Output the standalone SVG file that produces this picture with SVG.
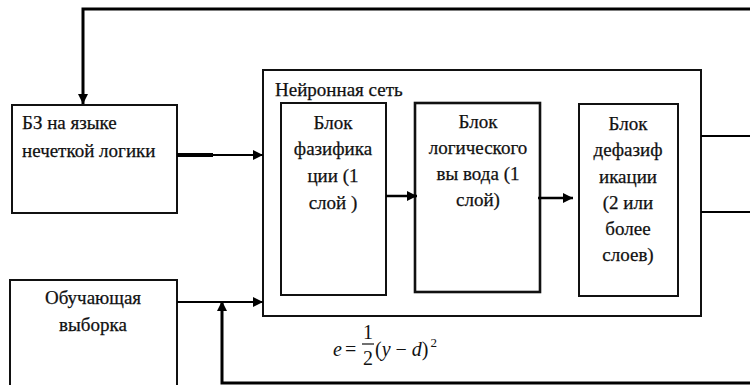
<svg xmlns="http://www.w3.org/2000/svg" width="750" height="385" viewBox="0 0 750 385">
  <defs>
    <marker id="arr" viewBox="0 0 10 10" refX="10" refY="5" markerWidth="11" markerHeight="10" markerUnits="userSpaceOnUse" orient="auto">
      <path d="M0,0 L10,5 L0,10 Z" fill="#000"/>
    </marker>
  </defs>
  <style>
    .box { fill: #fff; stroke: #111; stroke-width: 2; }
    .t { font-family: "Liberation Serif", "Times New Roman", serif; font-size: 19px; fill: #111; stroke: #111; stroke-width: 0.25; }
    .c { text-anchor: middle; }
    .ln { fill: none; stroke: #000; stroke-width: 2; }
    .thick { fill: none; stroke: #000; stroke-width: 3; }
    .math { font-family: "Liberation Serif", "Times New Roman", serif; font-size: 20px; fill: #111; }
  </style>
  <rect width="750" height="385" fill="#fff"/>

  <g id="nn">
    <rect class="box" x="263" y="70" width="438" height="246"/>
    <text class="t" x="275" y="96">Нейронная сеть</text>
  </g>

  <g id="bz">
    <rect class="box" x="12" y="105" width="165" height="108"/>
    <text class="t" x="22" y="129">БЗ на языке</text>
    <text class="t" x="22" y="157">нечеткой логики</text>
  </g>

  <g id="train">
    <rect class="box" x="10" y="280" width="167" height="110"/>
    <text class="t c" x="93" y="304">Обучающая</text>
    <text class="t c" x="93" y="331">выборка</text>
  </g>

  <g id="fuzz">
    <rect class="box" x="281" y="103" width="105" height="192"/>
    <text class="t c" x="333" y="129">Блок</text>
    <text class="t c" x="333" y="155">фазифика</text>
    <text class="t c" x="333" y="182">ции (1</text>
    <text class="t c" x="333" y="209">слой )</text>
  </g>

  <g id="infer">
    <rect class="box" x="415" y="103" width="125" height="189" style="stroke-width:2.6"/>
    <text class="t c" x="478" y="128">Блок</text>
    <text class="t c" x="478" y="154">логического</text>
    <text class="t c" x="478" y="180">вы вода (1</text>
    <text class="t c" x="478" y="206">слой)</text>
  </g>

  <g id="defuzz">
    <rect class="box" x="579" y="104" width="99" height="192"/>
    <text class="t c" x="628" y="130">Блок</text>
    <text class="t c" x="628" y="156">дефазиф</text>
    <text class="t c" x="628" y="183">икации</text>
    <text class="t c" x="628" y="209">(2 или</text>
    <text class="t c" x="628" y="235">более</text>
    <text class="t c" x="628" y="261">слоев)</text>
  </g>

  <g id="formula">
    <text class="math" x="333" y="356" font-style="italic">e</text>
    <text class="math" x="345" y="356">=</text>
    <text class="math" x="368" y="339" text-anchor="middle">1</text>
    <line x1="362" y1="344" x2="374" y2="344" stroke="#111" stroke-width="1.2"/>
    <text class="math" x="368" y="365" text-anchor="middle">2</text>
    <text class="math" x="375" y="356">(<tspan font-style="italic">y</tspan> − <tspan font-style="italic">d</tspan>)<tspan font-size="13" dx="2" dy="-9">2</tspan></text>
  </g>

  <g id="connectors">
    <path class="thick" d="M750,9 H83 V104" marker-end="url(#arr)"/>
    <path d="M177,155 H213" stroke="#000" stroke-width="4" fill="none"/>
    <path class="ln" d="M212,155 H263" marker-end="url(#arr)"/>
    <path class="ln" d="M386,196 H417" marker-end="url(#arr)" style="stroke-width:2.5"/>
    <path class="ln" d="M538,198 H573" marker-end="url(#arr)" style="stroke-width:2.5"/>
    <path class="ln" d="M701,136 H750"/>
    <path class="ln" d="M701,212 H750"/>
    <path class="ln" d="M177,302 H263" marker-end="url(#arr)"/>
    <path class="thick" d="M750,383 H222 V301" marker-end="url(#arr)"/>
  </g>
</svg>
